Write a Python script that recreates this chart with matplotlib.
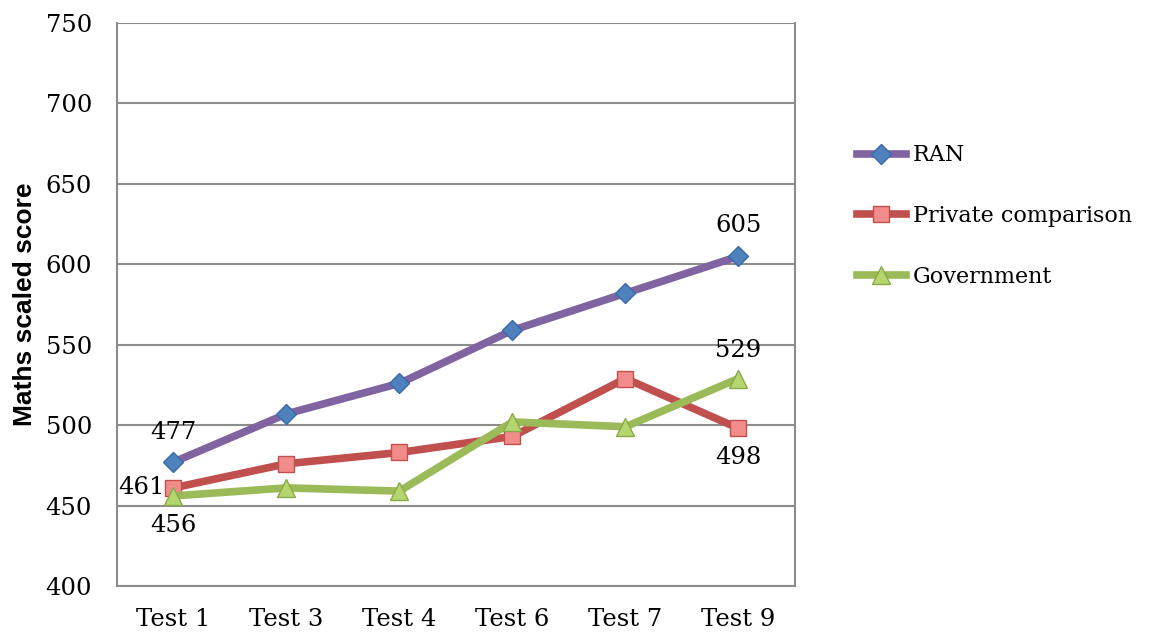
import matplotlib.pyplot as plt
import numpy as np

tests = ['Test 1', 'Test 3', 'Test 4', 'Test 6', 'Test 7', 'Test 9']
ran = [477, 507, 526, 559, 582, 605]
private = [461, 476, 483, 493, 529, 498]
government = [456, 461, 459, 502, 499, 529]

serif = 'DejaVu Serif'

fig = plt.figure(figsize=(11.49, 6.34), dpi=100)
ax = fig.add_axes([0.1018, 0.0757, 0.5901, 0.888])

x = np.arange(len(tests))

ax.plot(x, ran, color='#8064A2', lw=5.5, marker='D', ms=10,
        mfc='#4F81BD', mec='#3A6BA8', mew=1, label='RAN', zorder=3)
ax.plot(x, private, color='#C0504D', lw=5.5, marker='s', ms=12,
        mfc='#F28C8A', mec='#C0504D', mew=1, label='Private comparison', zorder=3)
ax.plot(x, government, color='#9BBB59', lw=5.5, marker='^', ms=13,
        mfc='#B5D56F', mec='#8AAA48', mew=1, label='Government', zorder=3)

# data labels on first and last points
fs = 17.5
ax.annotate(str(ran[0]), (x[0], ran[0]), xytext=(0, 13), textcoords='offset points',
            ha='center', va='bottom', fontsize=fs, family=serif)
ax.annotate(str(private[0]), (x[0], private[0]), xytext=(-6, 0), textcoords='offset points',
            ha='right', va='center', fontsize=fs, family=serif)
ax.annotate(str(government[0]), (x[0], government[0]), xytext=(0, -13), textcoords='offset points',
            ha='center', va='top', fontsize=fs, family=serif)
ax.annotate(str(ran[-1]), (x[-1], ran[-1]), xytext=(0, 14), textcoords='offset points',
            ha='center', va='bottom', fontsize=fs, family=serif)
ax.annotate(str(government[-1]), (x[-1], government[-1]), xytext=(0, 12), textcoords='offset points',
            ha='center', va='bottom', fontsize=fs, family=serif)
ax.annotate(str(private[-1]), (x[-1], private[-1]), xytext=(0, -13), textcoords='offset points',
            ha='center', va='top', fontsize=fs, family=serif)

ax.set_xlim(-0.5, len(tests) - 0.5)
ax.set_ylim(400, 750)
ax.set_yticks(np.arange(400, 751, 50))
ax.set_xticks(x)
ax.set_xticklabels(tests)
for lab in ax.get_xticklabels() + ax.get_yticklabels():
    lab.set_fontfamily(serif)
    lab.set_fontsize(fs)
ax.tick_params(axis='y', length=0, pad=18)
ax.tick_params(axis='x', length=0, pad=16)

ax.yaxis.grid(True, color='#8C8C8C', lw=1.5)
ax.set_axisbelow(True)
ax.spines['top'].set_visible(False)
for s in ['left', 'right', 'bottom']:
    ax.spines[s].set_color('#8C8C8C')
    ax.spines[s].set_linewidth(1.5)

ax.set_ylabel('Maths scaled score', fontsize=19, fontweight='bold',
              family='Liberation Sans', labelpad=6)

leg = ax.legend(loc='upper left', bbox_to_anchor=(1.062, 0.82), frameon=False,
                prop={'family': serif, 'size': 16}, handlelength=2.2,
                labelspacing=1.75, handletextpad=0.3)

fig.savefig('out.png', dpi=100)
